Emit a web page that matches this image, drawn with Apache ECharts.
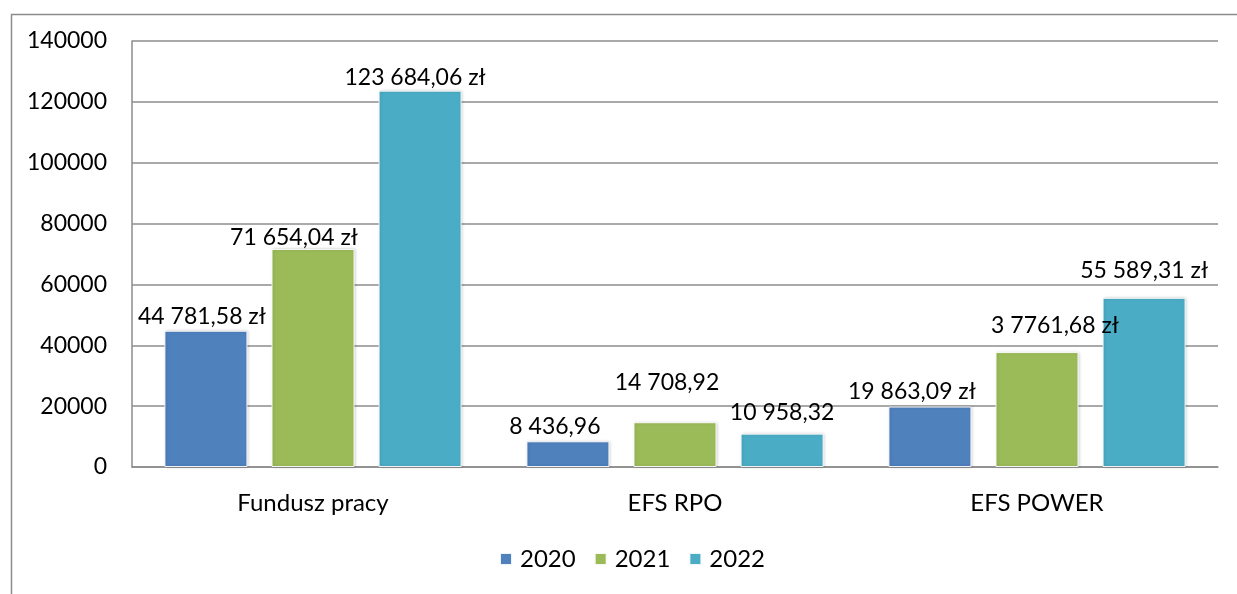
<!DOCTYPE html>
<html><head><meta charset="utf-8">
<script src="https://cdn.jsdelivr.net/npm/echarts@6/dist/echarts.min.js"></script>
<style>html,body{margin:0;padding:0;background:#fff}#c{width:1237px;height:594px}</style>
</head><body><div id="c"></div>
<script>
const categories = ['Fundusz pracy', 'EFS RPO', 'EFS POWER'];
const seriesNames = ['2020', '2021', '2022'];
const values2020 = [44781.58, 8436.96, 19863.09];
const values2021 = [71654.04, 14708.92, 37761.68];
const values2022 = [123684.06, 10958.32, 55589.31];
const labels2020 = ['44 781,58 zł', '8 436,96', '19 863,09 zł'];
const labels2021 = ['71 654,04 zł', '14 708,92', '3 7761,68 zł'];
const labels2022 = ['123 684,06 zł', '10 958,32', '55 589,31 zł'];
const yTicks = [0, 20000, 40000, 60000, 80000, 100000, 120000, 140000];

const colors = ['#4F81BD', '#9BBB59', '#4BACC6'];
const offsets = [
  [[-4, -3], [-13, -3], [-18, -3]],
  [[-19, 0], [-8, -28], [18, -15]],
  [[-5, -2], [0, -10], [0, -16]]
];
const allVals = [values2020, values2021, values2022];
const allLabels = [labels2020, labels2021, labels2022];
const FONT = 'Lato';

const chart = echarts.init(document.getElementById('c'), null, {renderer: 'canvas'});
chart.setOption({
  animation: false,
  textStyle: {fontFamily: FONT},
  grid: {left: 132, right: 19, top: 41, bottom: 127, containLabel: false},
  graphic: [{type: 'rect', left: 9, top: 12, shape: {width: 1400, height: 800},
    style: {fill: 'none', stroke: '#8c8c8c', lineWidth: 1.5}}],
  legend: {top: 547, left: 499, padding: 0, itemWidth: 12, itemHeight: 12, itemGap: 18,
    icon: 'rect', textStyle: {fontSize: 24, color: '#000', fontFamily: FONT, padding: [0, 0, 0, 3]},
    data: seriesNames},
  xAxis: {type: 'category', data: categories,
    axisLine: {lineStyle: {color: '#8c8c8c', width: 1.5}},
    axisTick: {show: false},
    axisLabel: {fontSize: 24, color: '#000', margin: 24, fontFamily: FONT}},
  yAxis: {type: 'value', min: yTicks[0], max: yTicks[yTicks.length - 1], interval: 20000,
    axisLine: {show: true, lineStyle: {color: '#8c8c8c', width: 1.5}},
    axisTick: {show: false},
    splitLine: {lineStyle: {color: '#8c8c8c', width: 1.5}},
    axisLabel: {fontSize: 23, color: '#000', margin: 25, fontFamily: FONT,
      formatter: v => String(v)}},
  series: seriesNames.map((name, si) => ({
    name, type: 'bar', barWidth: 83, barGap: '29%',
    itemStyle: {color: colors[si], borderColor: 'rgba(255,255,255,0.9)', borderWidth: 1,
      shadowColor: 'rgba(0,0,0,0.18)', shadowBlur: 3, shadowOffsetX: 1, shadowOffsetY: 0},
    data: allVals[si].map((v, ci) => ({
      value: v,
      label: {show: true, position: 'top', distance: 0, offset: offsets[si][ci],
        formatter: allLabels[si][ci], fontSize: 23, color: '#000', fontFamily: FONT}
    }))
  }))
});
</script></body></html>
